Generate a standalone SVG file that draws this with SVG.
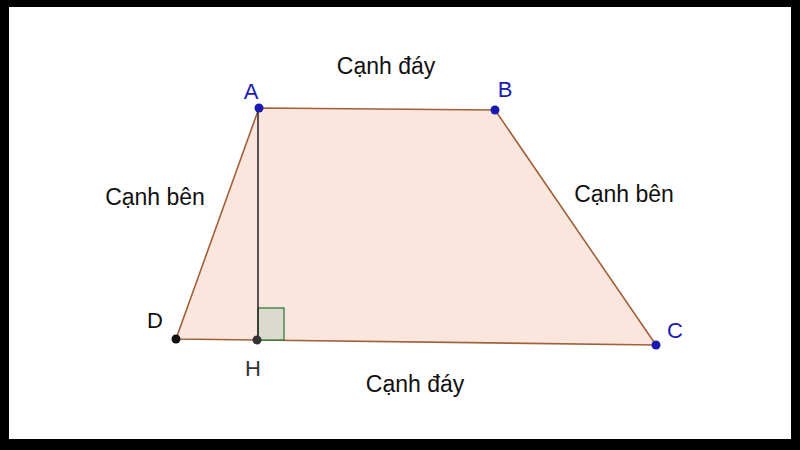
<svg xmlns="http://www.w3.org/2000/svg" width="800" height="450" viewBox="0 0 800 450">
<style>
.lbl{font-family:"Liberation Sans",Arial,sans-serif;font-size:23px;fill:#111}
.pt{font-family:"Liberation Sans",Arial,sans-serif;font-size:22px}
</style>
<rect width="800" height="450" fill="#000"/>
<rect x="9" y="7" width="782" height="432" fill="#fff"/>
<g id="trapezoid">
<polygon points="259,108 495,110 656,345 176,339" fill="#fbe6de" stroke="#a0613a" stroke-width="1.6"/>
</g>
<g id="right-angle">
<rect x="258" y="308" width="26" height="32" fill="#dcd9cf" stroke="#2e7d32" stroke-width="1.3"/>
</g>
<g id="connectors">
<line x1="258" y1="108" x2="258" y2="340" stroke="#222" stroke-width="1.5"/>
</g>
<g id="A"><circle cx="259" cy="108" r="4.5" fill="#1a1ab0"/><text class="pt" x="251" y="99" text-anchor="middle" fill="#1a1ab0">A</text></g>
<g id="B"><circle cx="495" cy="110" r="4.5" fill="#1a1ab0"/><text class="pt" x="505" y="97" text-anchor="middle" fill="#1a1ab0">B</text></g>
<g id="C"><circle cx="656" cy="345" r="4.5" fill="#1a1ab0"/><text class="pt" x="675" y="338" text-anchor="middle" fill="#1a1ab0">C</text></g>
<g id="D"><circle cx="176" cy="339" r="4.5" fill="#111"/><text class="pt" x="155" y="328" text-anchor="middle" fill="#111">D</text></g>
<g id="H"><circle cx="257" cy="340" r="4.5" fill="#333"/><text class="pt" x="253" y="376" text-anchor="middle" fill="#333">H</text></g>
<g id="labels">
<text class="lbl" x="386" y="74" text-anchor="middle">Cạnh đáy</text>
<text class="lbl" x="155" y="205" text-anchor="middle">Cạnh bên</text>
<text class="lbl" x="624" y="202" text-anchor="middle">Cạnh bên</text>
<text class="lbl" x="415" y="392" text-anchor="middle">Cạnh đáy</text>
</g>
</svg>
